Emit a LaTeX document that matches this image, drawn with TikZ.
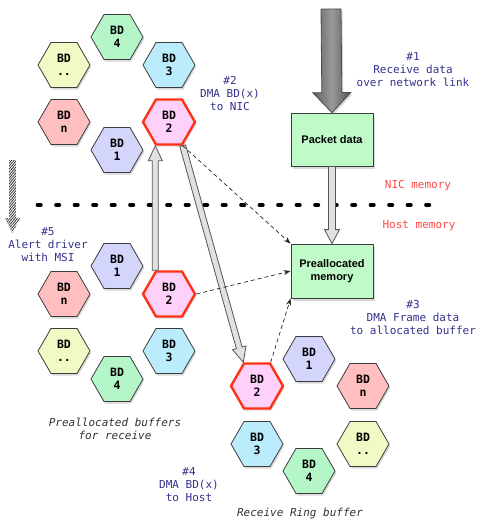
\documentclass[tikz,border=0pt]{standalone}
\usepackage{fontspec}
\setmainfont{Liberation Sans}
\setsansfont{Liberation Sans}
\setmonofont{DejaVu Sans Mono}
\usetikzlibrary{shapes.geometric,shadows,calc,patterns.meta,arrows.meta}

\definecolor{bdone}{RGB}{211,213,250}
\definecolor{bdtwo}{RGB}{255,208,250}
\definecolor{bdthree}{RGB}{186,236,252}
\definecolor{bdfour}{RGB}{180,246,200}
\definecolor{bddots}{RGB}{243,249,196}
\definecolor{bdn}{RGB}{255,190,192}
\definecolor{boxgreen}{RGB}{192,250,200}
\definecolor{hexborder}{RGB}{60,60,60}
\definecolor{curred}{RGB}{255,50,20}
\definecolor{labelblue}{RGB}{50,50,140}
\definecolor{memred}{RGB}{255,70,70}
\definecolor{arrowfill}{RGB}{225,225,225}
\definecolor{arrowline}{RGB}{85,85,85}

% block arrow drawn as a polygon between two points
% #1 start, #2 end, #3 half shaft width, #4 half head width, #5 head length, #6 style
\newcommand\blockarrow[6]{%
  \coordinate (ba-hb) at ($(#2)!#5!(#1)$);
  \path[#6] ($(#1)!#3!90:(#2)$) -- ($(ba-hb)!#3!90:(#2)$) -- ($(ba-hb)!#4!90:(#2)$)
    -- (#2) -- ($(ba-hb)!#4!-90:(#2)$) -- ($(ba-hb)!#3!-90:(#2)$)
    -- ($(#1)!#3!-90:(#2)$) -- cycle;
}

\tikzset{
  hexa/.style={regular polygon, regular polygon sides=6, minimum size=52pt,
    inner sep=0pt, draw=hexborder, line width=0.8pt, align=center,
    font=\ttfamily\bfseries\fontsize{11.5}{13}\selectfont,
    drop shadow={shadow xshift=1.2pt, shadow yshift=-2pt, opacity=0.3}},
  current/.style={draw=curred, line width=2.4pt},
  membox/.style={rectangle, draw=hexborder, line width=0.8pt, fill=boxgreen,
    minimum width=82pt, minimum height=53pt, inner sep=2pt, align=center,
    font=\sffamily\bfseries\fontsize{11}{13}\selectfont,
    drop shadow={shadow xshift=1.5pt, shadow yshift=-2.5pt, opacity=0.3}},
  steplabel/.style={align=center, text=labelblue, inner sep=0pt,
    font=\ttfamily\fontsize{11}{13}\selectfont},
  memlabel/.style={text=memred, inner sep=0pt, font=\ttfamily\fontsize{11}{13}\selectfont},
  caption/.style={align=center, text=black!80, inner sep=0pt,
    font=\ttfamily\itshape\fontsize{11}{13}\selectfont},
  hollow/.style={draw=arrowline, fill=arrowfill, line width=0.8pt, line join=miter},
  dmalink/.style={draw=black!85, line width=0.7pt, dash pattern=on 4pt off 3pt,
    -{Stealth[length=7pt,width=5pt]}},
}

\begin{document}
\begin{tikzpicture}[x=1pt, y=-1pt]
\useasboundingbox (0,0) rectangle (480,520);

% descriptor ring on the NIC side
\node[hexa, fill=bdfour]  (a4)    at (117,37)  {BD\\4};
\node[hexa, fill=bddots]  (adots) at (64,65)   {BD\\..};
\node[hexa, fill=bdthree] (a3)    at (169,65)  {BD\\3};
\node[hexa, fill=bdn]     (an)    at (64,122)  {BD\\n};
\node[hexa, fill=bdtwo, current] (a2) at (169,122) {BD\\2};
\node[hexa, fill=bdone]   (a1)    at (117,150) {BD\\1};

% preallocated buffers in host memory
\node[hexa, fill=bdone]   (b1)    at (117,266) {BD\\1};
\node[hexa, fill=bdn]     (bn)    at (64,294)  {BD\\n};
\node[hexa, fill=bdtwo, current] (b2) at (169,294) {BD\\2};
\node[hexa, fill=bddots]  (bdots) at (64,351)  {BD\\..};
\node[hexa, fill=bdthree] (b3)    at (169,351) {BD\\3};
\node[hexa, fill=bdfour]  (b4)    at (117,379) {BD\\4};

% receive ring buffer
\node[hexa, fill=bdone]   (c1)    at (309,359) {BD\\1};
\node[hexa, fill=bdtwo, current] (c2) at (257,386) {BD\\2};
\node[hexa, fill=bdn]     (cn)    at (363,386) {BD\\n};
\node[hexa, fill=bdthree] (c3)    at (257,444) {BD\\3};
\node[hexa, fill=bddots]  (cdots) at (363,444) {BD\\..};
\node[hexa, fill=bdfour]  (c4)    at (309,471) {BD\\4};

% memory boxes
\node[membox] (packet)   at (332,139.5) {Packet data};
\node[membox, minimum height=54pt] (prealloc) at (332,271) {Preallocated\\memory};

% NIC / host memory boundary
\coordinate (sepl) at (37.5,205);
\coordinate (sepr) at (436,205);
\draw[line width=3.6pt, line cap=round, dash pattern=on 3.4pt off 15.1pt] (sepl) -- (sepr);
\node[memlabel] (nicmem)  at (418,186) {NIC memory};
\node[memlabel] (hostmem) at (419,226) {Host memory};

% incoming data from the network link
\coordinate (netin) at (331,9);
\blockarrow{netin}{packet.north}{10pt}{19pt}{20pt}{draw=black!70, line width=0.8pt,
  left color=black!62, right color=black!66, middle color=black!40,
  drop shadow={shadow xshift=1.5pt, shadow yshift=-2pt, opacity=0.3}}

% packet data copied into host memory
\blockarrow{packet.south}{prealloc.north}{3.5pt}{7.5pt}{14pt}{hollow}

% BD(x) moves to the NIC, then back to the host ring
\blockarrow{b2.120}{a2.240}{3pt}{7pt}{15pt}{hollow}
\blockarrow{a2.300}{c2.120}{3pt}{7pt}{15pt}{hollow}

% DMA of frame data into the allocated buffer
\draw[dmalink] (a2.300) -- (prealloc.north west);
\draw[dmalink] (b2.0) -- (prealloc.west);
\draw[dmalink] (c2.60) -- (prealloc.south west);

% interrupt to the driver
\coordinate (msitop) at (12.5,160);
\coordinate (msibot) at (12.5,233);
\blockarrow{msitop}{msibot}{3.3pt}{7.5pt}{15pt}{pattern={Lines[angle=50, distance=1.9pt, line width=0.8pt]}, pattern color=black!80}

% step labels
\node[steplabel] (s1) at (413,70)  {\#1\\Receive data\\over network link};
\node[steplabel] (s2) at (230,93)  {\#2\\DMA BD(x)\\to NIC};
\node[steplabel] (s3) at (413,317) {\#3\\DMA Frame data\\to allocated buffer};
\node[steplabel] (s4) at (189,485) {\#4\\DMA BD(x)\\to Host};
\node[steplabel] (s5) at (48,245)  {\#5\\Alert driver\\with MSI};

% group captions
\node[caption] (bufcap)  at (115,429) {Preallocated buffers\\for receive};
\node[caption] (ringcap) at (300,513) {Receive Ring buffer};
\end{tikzpicture}
\end{document}
